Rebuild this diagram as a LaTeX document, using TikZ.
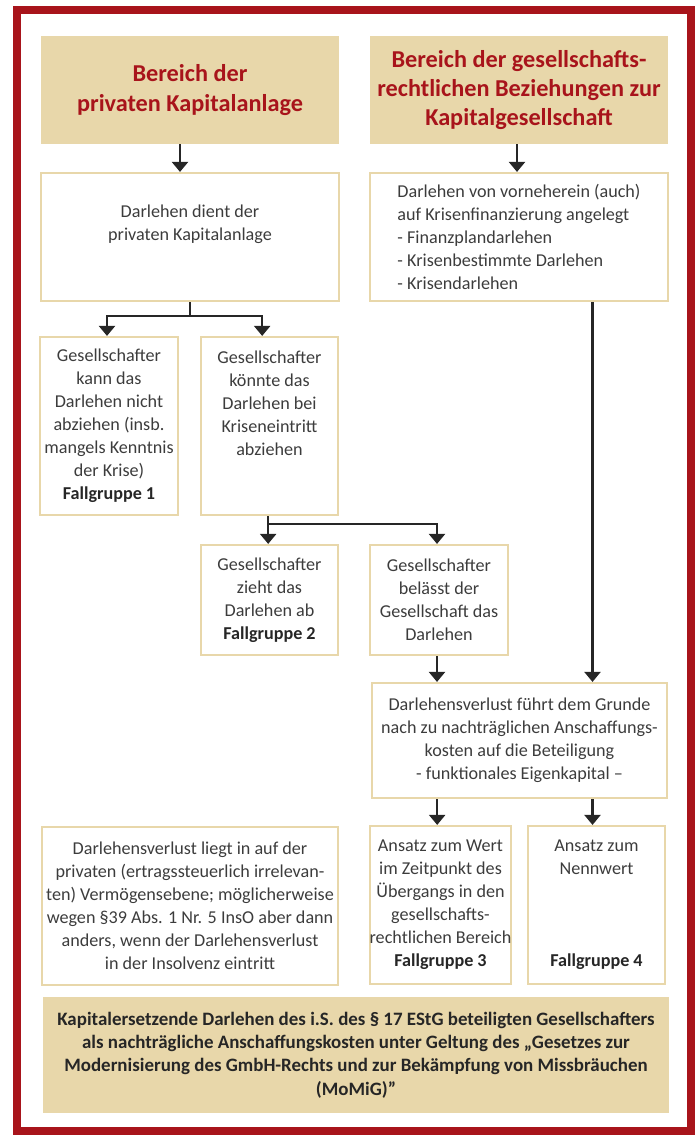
\documentclass[tikz,border=0pt]{standalone}
\usepackage{fontspec}
\setmainfont{Carlito}
\usetikzlibrary{arrows.meta}

\definecolor{sand}{HTML}{E8D7AA}
\definecolor{frame}{HTML}{A8141B}
\definecolor{ink}{HTML}{3C3C3C}

\newdimen\px \px=0.75pt

\tikzset{
  box/.style={draw=sand,line width=1.6pt,rectangle,inner sep=0pt,align=center,
    text=ink,font=\fontsize{13.6}{17.25}\selectfont},
  head/.style={fill=sand,rectangle,inner sep=0pt,align=center,text=frame,
    font=\fontsize{18.2}{22}\selectfont\bfseries},
  arr/.style={draw=black!85,line width=1.6pt,-{Triangle[width=12pt,length=7.5pt]}}
}
\newcommand{\fg}[1]{\textbf{\color{black!85}Fallgruppe #1}}

\begin{document}
\begin{tikzpicture}[x=0.75pt,y=-0.75pt]

  \useasboundingbox (0,0) rectangle (699,1135);
  \draw[frame,line width=5.4pt] (17,10) rectangle (691,1131);

  \node[head,minimum width=298\px,minimum height=108\px] (hl) at (190,90)
    {Bereich der\\privaten Kapitalanlage};
  \node[head,minimum width=298\px,minimum height=108\px] (hr) at (519,90)
    {Bereich der gesellschafts-\\rechtlichen Beziehungen zur\\Kapitalgesellschaft};

  \begin{scope}[every node/.append style={box}]
    \node[minimum width=298\px,minimum height=128\px] (anlage) at (190,237)
      {Darlehen dient der\\privaten Kapitalanlage\\[4pt]};
    \node[minimum width=298\px,minimum height=128\px,align=left] (vorne) at (519,237)
      {Darlehen von vorneherein (auch)\\auf Krisenfinanzierung angelegt\\- Finanzplandarlehen\\- Krisenbestimmte Darlehen\\- Krisendarlehen};
    \node[minimum width=138\px,minimum height=178\px] (fg1) at (109,426)
      {Gesellschafter\\kann das\\Darlehen nicht\\abziehen (insb.\\mangels Kenntnis\\der Krise)\\\fg{1}};
    \node[minimum width=137\px,minimum height=178\px] (koennte) at (269.5,426)
      {Gesellschafter\\könnte das\\Darlehen bei\\Kriseneintritt\\abziehen\\~\\~};
    \node[minimum width=137\px,minimum height=110\px] (fg2) at (269.5,600)
      {Gesellschafter\\zieht das\\Darlehen ab\\\fg{2}};
    \node[minimum width=138\px,minimum height=110\px] (belaesst) at (439,600)
      {Gesellschafter\\belässt der\\Gesellschaft das\\Darlehen};
    \node[minimum width=295\px,minimum height=115\px] (verlust) at (519.5,740.5)
      {Darlehensverlust führt dem Grunde\\nach zu nachträglichen Anschaffungs-\\kosten auf die Beteiligung\\- funktionales Eigenkapital –};
    \node[minimum width=296\px,minimum height=158\px] (privat) at (190,906)
      {Darlehensverlust liegt in auf der\\privaten (ertragssteuerlich irrelevan-\\ten) Vermögensebene; möglicherweise\\wegen §39 Abs. 1 Nr. 5 InsO aber dann\\anders, wenn der Darlehensverlust\\in der Insolvenz eintritt};
    \node[minimum width=137\px,minimum height=158\px] (fg3) at (440.5,905)
      {Ansatz zum Wert\\im Zeitpunkt des\\Übergangs in den\\gesellschafts-\\rechtlichen Bereich\\\fg{3}};
    \node[minimum width=137\px,minimum height=158\px] (fg4) at (596.5,905)
      {Ansatz zum\\Nennwert\\~\\~\\~\\\fg{4}};
  \end{scope}

  \node[head,text=black!85,minimum width=626\px,minimum height=116\px,
    font=\fontsize{14.2}{17.5}\selectfont\bfseries] (momig) at (356,1055)
    {Kapitalersetzende Darlehen des i.S. des § 17 EStG beteiligten Gesellschafters\\
     als nachträgliche Anschaffungskosten unter Geltung des „Gesetzes zur\\
     Modernisierung des GmbH-Rechts und zur Bekämpfung von Missbräuchen\\
     (MoMiG)”};

  % arrows
  \draw[arr] ([xshift=-7.5pt]hl.south) -- ([xshift=-7.5pt]anlage.north);
  \draw[arr] ([xshift=-1.5pt]hr.south) -- ([xshift=-1.5pt]vorne.north);
  \draw[arr] (anlage.south) -- ++(0,14) -| ([xshift=-1.5pt]fg1.north);
  \draw[arr] (anlage.south) -- ++(0,14) -| ([xshift=-5.5pt]koennte.north);
  \draw[arr] ([xshift=-1pt]koennte.south) -- ([xshift=-1pt]fg2.north);
  \draw[arr] ([xshift=-1pt]koennte.south) -- ++(0,8) -| ([xshift=-1.5pt]belaesst.north);
  \draw[arr] ([xshift=-1.5pt]belaesst.south) -- ([xshift=-1.5pt]belaesst.south |- verlust.north);
  \draw[arr] ([xshift=-3pt]vorne.south -| fg4.north) -- ([xshift=-3pt]verlust.north -| fg4.north);
  \draw[arr] ([xshift=-2.5pt]verlust.south -| fg3.north) -- ([xshift=-2.5pt]fg3.north);
  \draw[arr] ([xshift=-3pt]verlust.south -| fg4.north) -- ([xshift=-3pt]fg4.north);

\end{tikzpicture}
\end{document}
